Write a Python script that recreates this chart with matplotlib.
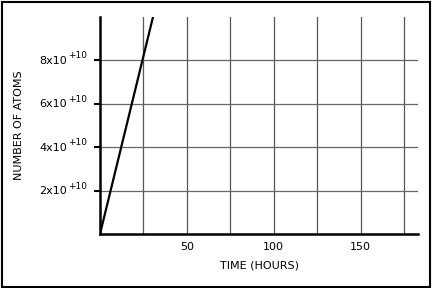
import matplotlib
matplotlib.use("Agg")
import matplotlib.pyplot as plt
from matplotlib.patches import Rectangle

# data
time_hours = [0, 30.5]
atoms = [0, 1.0e11]
x_major = [50, 100, 150]
x_minor = [25, 75, 125, 175]
y_ticks = [2e10, 4e10, 6e10, 8e10]
y_base = ["2x10", "4x10", "6x10", "8x10"]
y_exp = ["+10", "+10", "+10", "+10"]

plt.rcParams['font.family'] = ['DejaVu Sans']

fig = plt.figure(figsize=(4.32, 2.88), dpi=100)
ax = fig.add_axes([100/432, (288-234)/288, 318/432, (234-17)/288])

ax.plot(time_hours, atoms, color='black', lw=1.6, zorder=3, clip_on=True)

ax.set_xlim(0, 183)
ax.set_ylim(0, 1.0e11)
ax.set_xticks(x_major)
ax.set_xticks(x_minor, minor=True)
ax.set_yticks(y_ticks)
ax.set_yticklabels([])

ax.grid(True, which='both', axis='x', color='#555555', lw=0.9)
ax.grid(True, which='major', axis='y', color='#666666', lw=0.9)
ax.set_axisbelow(True)

for s in ['top', 'right']:
    ax.spines[s].set_visible(False)
for s in ['left', 'bottom']:
    ax.spines[s].set_linewidth(1.8)
    ax.spines[s].set_color('black')

ax.tick_params(axis='x', which='both', length=0, pad=6, labelsize=8)
ax.tick_params(axis='y', which='major', length=4, width=1.5, direction='out', pad=5, labelsize=8)

px = 72 / 100
for yv, b, e in zip(y_ticks, y_base, y_exp):
    ax.annotate(b, xy=(0, yv), xycoords=('axes fraction', 'data'),
                xytext=(-33 * px, -0.5 * px), textcoords='offset points',
                ha='right', va='center', fontsize=8)
    ax.annotate(e, xy=(0, yv), xycoords=('axes fraction', 'data'),
                xytext=(-32 * px, 4.5 * px), textcoords='offset points',
                ha='left', va='center', fontsize=6.5)

ax.set_xlabel('TIME (HOURS)', fontsize=8, labelpad=6)
ax.set_ylabel('NUMBER OF ATOMS', fontsize=8)
ax.yaxis.set_label_coords(-0.24, 0.5)

fig.patches.append(Rectangle((1.5/432, 1.5/288), 428/432, 284.5/288, transform=fig.transFigure,
                             fill=False, edgecolor='black', lw=1.5))

fig.savefig('out.png', dpi=100)
